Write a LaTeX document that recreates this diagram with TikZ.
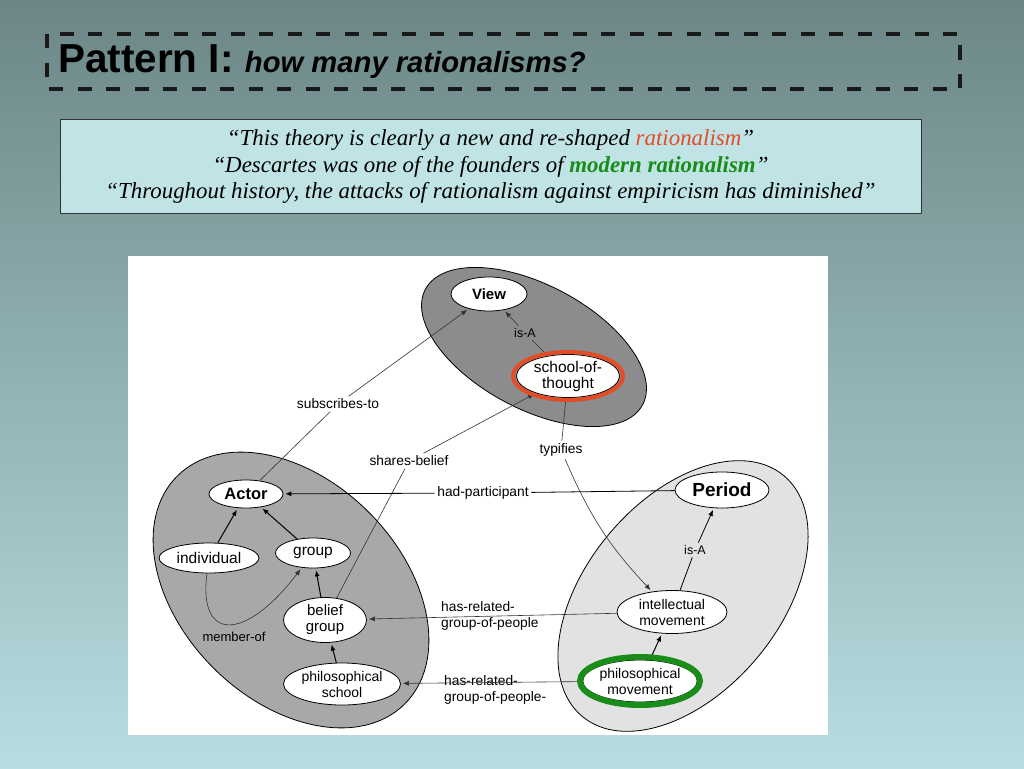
\documentclass[tikz,border=0pt]{standalone}
\usepackage{fontspec}
\setmainfont{Liberation Serif}
\newfontfamily\helv{Liberation Sans}
\usetikzlibrary{shapes.geometric,arrows.meta}
\definecolor{bgtop}{RGB}{108,134,134}
\definecolor{bgbot}{RGB}{184,222,225}
\definecolor{quotefill}{RGB}{192,227,229}
\definecolor{ratred}{RGB}{228,76,40}
\definecolor{ratgreen}{RGB}{26,140,26}
\definecolor{viewgray}{RGB}{140,140,140}
\definecolor{actorgray}{RGB}{168,168,168}
\definecolor{periodgray}{RGB}{226,226,226}
\tikzset{
  cluster/.style={ellipse, draw=black, line width=0.8pt, inner sep=0pt},
  nd/.style={ellipse, draw=black, fill=white, line width=0.8pt, inner sep=0pt, align=center,
    font=\helv\fontsize{15}{16}\selectfont},
  ndsmall/.style={nd, font=\helv\fontsize{14}{16}\selectfont},
  lbl/.style={inner sep=2.5pt, font=\helv\fontsize{13.8}{16}\selectfont},
  thinedge/.style={draw=black!80, line width=0.6pt},
  arr/.style={-{Latex[length=6pt,width=5pt]}, shorten >=2pt},
  treeedge/.style={draw=black, line width=1pt, -{Latex[length=6pt,width=5pt]}, shorten >=2pt},
  ring/.style={ellipse, inner sep=0pt, fill=none},
}
\begin{document}
\begin{tikzpicture}[x=1pt,y=-1pt]
\shade[top color=bgtop,bottom color=bgbot] (0,0) rectangle (1024,768);
\useasboundingbox (0,0) rectangle (1024,768);
% title
\draw[line width=4pt, draw=black!90, dash pattern=on 14pt off 14.5pt] (47,34) rectangle (960,89);
\node[anchor=base west, inner sep=0pt, font=\helv] (title) at (58,72)
  {\fontsize{40.5}{42}\selectfont\bfseries Pattern I: \fontsize{29.2}{31}\selectfont\itshape how many rationalisms?};
% quotes
\node[draw=black!80, line width=0.8pt, fill=quotefill, minimum width=861pt, minimum height=94pt, inner sep=0pt] (quotebox) at (490.5,166) {};
\node[align=center, inner sep=0pt, font=\itshape\fontsize{22.9}{26.5}\selectfont] (quotes) at (490.5,167)
  {``This theory is clearly a new and re-shaped \textcolor{ratred}{rationalism}''\\
   ``Descartes was one of the founders of \textcolor{ratgreen}{\bfseries modern rationalism}''\\
   ``Throughout history, the attacks of rationalism against empiricism has diminished''};
% diagram panel
\fill[white] (128,256) rectangle (828,735);
% clusters
\node[cluster, fill=viewgray, minimum width=246pt, minimum height=124pt, rotate=-28] (viewc) at (534,347) {};
\node[cluster, fill=actorgray, minimum width=322pt, minimum height=220pt, rotate=-45] (actorc) at (291,590) {};
\node[cluster, fill=periodgray, minimum width=314pt, minimum height=193pt, rotate=50] (periodc) at (683,596) {};
% nodes
\node[nd, minimum width=76pt, minimum height=34pt, font=\helv\bfseries\fontsize{15}{16}\selectfont] (view) at (489,294) {View};
\node[nd, minimum width=103pt, minimum height=38pt, font=\helv\fontsize{15.5}{16}\selectfont] (sot) at (568,376) {school-of-\\thought};
\node[nd, minimum width=74pt, minimum height=28pt, font=\helv\bfseries\fontsize{16.5}{18}\selectfont] (actor) at (246,494) {Actor};
\node[nd, minimum width=94pt, minimum height=36pt, font=\helv\bfseries\fontsize{19}{20}\selectfont] (period) at (722,490) {Period};
\node[nd, minimum width=100pt, minimum height=30pt, font=\helv\fontsize{15.5}{16}\selectfont] (indiv) at (209,558) {individual};
\node[nd, minimum width=75pt, minimum height=30pt, font=\helv\fontsize{15.5}{16}\selectfont] (group) at (313,553) {group};
\node[nd, minimum width=83pt, minimum height=45pt] (bgroup) at (325,620) {belief\\group};
\node[ndsmall, minimum width=117pt, minimum height=42pt] (pschool) at (342,684) {philosophical\\school};
\node[ndsmall, minimum width=110pt, minimum height=43pt] (imove) at (672,612) {intellectual\\movement};
\node[ndsmall, minimum width=111pt, minimum height=42pt] (pmove) at (640,681) {philosophical\\movement};
% labels
\node[lbl] (subs) at (338,404) {subscribes-to};
\node[lbl] (shb) at (409,461) {shares-belief};
\node[lbl, font=\helv\fontsize{12.5}{14}\selectfont] (isa1) at (525,333) {is-A};
\node[lbl] (typ) at (561,450) {typifies};
\node[lbl] (hadp) at (483,493) {had-participant};
\node[lbl, font=\helv\fontsize{12.5}{14}\selectfont] (isa2) at (695,550) {is-A};
\node[lbl, align=left, anchor=west, inner sep=0pt] (hrg1) at (441,616) {has-related-\\group-of-people};
\node[lbl, align=left, anchor=west, inner sep=0pt] (hrg2) at (444,689.5) {has-related-\\group-of-people-};
\node[lbl, font=\helv\fontsize{13}{15}\selectfont] (memb) at (234,637) {member-of};
% edges
\draw[thinedge, arr] (actor) -- (subs) -- (view);
\draw[thinedge, arr] (sot) -- (isa1) -- (view);
\draw[thinedge] (bgroup) -- (shb);
\draw[thinedge, arr] (shb) -- (sot);
\draw[thinedge] (sot) -- (typ);
\draw[thinedge, arr] (typ) to[bend right=10] (imove);
\draw[draw=black, line width=0.8pt, arr] (period) -- (hadp) -- (actor);
\draw[draw=black, line width=0.8pt, arr] (imove) -- (isa2) -- (period);
\draw[thinedge, arr] (imove) -- (bgroup);
\draw[thinedge, arr] (pmove) -- (pschool);
\draw[treeedge] (pmove) -- (imove);
\draw[treeedge] (indiv) -- (actor);
\draw[treeedge] (group) -- (actor);
\draw[treeedge] (bgroup) -- (group);
\draw[treeedge] (pschool) -- (bgroup);
\draw[thinedge, arr] (indiv) .. controls (198,642) and (245,642) .. (group);
% highlight rings
\node[ring, draw=ratred, line width=4pt, minimum width=110pt, minimum height=48pt] (sotring) at (568,376) {};
\node[ring, draw=ratgreen, line width=6pt, minimum width=120pt, minimum height=48pt] (pmring) at (640,681) {};
\end{tikzpicture}
\end{document}
